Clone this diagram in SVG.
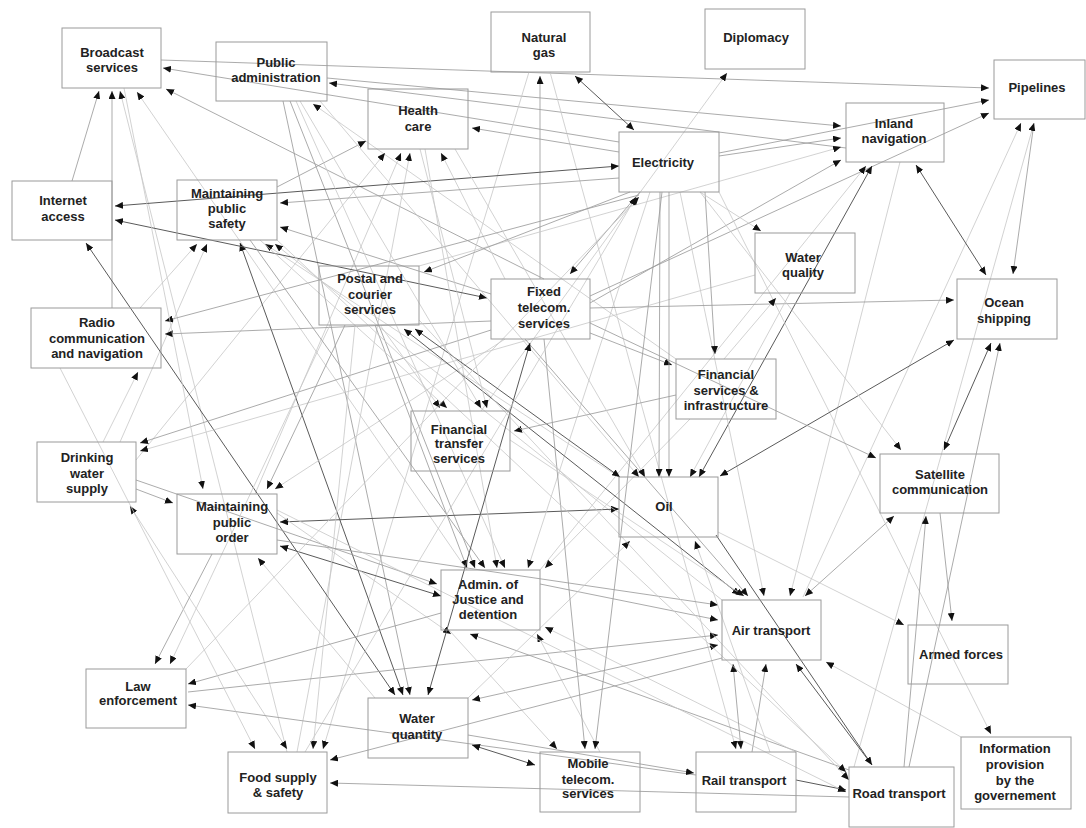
<svg xmlns="http://www.w3.org/2000/svg" width="1086" height="828" viewBox="0 0 1086 828">
<style>
.bg{fill:#fff}
.box{fill:none;stroke:#9a9a9a;stroke-width:1}
.t{font-family:"Liberation Sans",Arial,Helvetica,sans-serif;font-weight:bold;font-size:13px;fill:#222;text-anchor:middle}
#edges line{marker-end:url(#ah)}
#edges line.b{marker-start:url(#ah)}
.d{stroke:#5a5a5a;stroke-width:1}
.m{stroke:#9c9c9c;stroke-width:0.85}
.l{stroke:#c6c6c6;stroke-width:0.8}
</style>
<defs>
<marker id="ah" markerUnits="userSpaceOnUse" markerWidth="9" markerHeight="7" refX="8" refY="3.5" orient="auto-start-reverse">
<path d="M0,0 L8,3.5 L0,7 z" fill="#111"/>
</marker>
</defs>
<rect class="bg" x="0" y="0" width="1086" height="828"/>
<g id="edges">
<line class="m" x1="161" y1="60" x2="989" y2="88"/>
<line class="m" x1="619" y1="142" x2="163" y2="68"/>
<line class="m" x1="72" y1="181" x2="99" y2="91"/>
<line class="m" x1="112" y1="308" x2="112" y2="91"/>
<line class="l" x1="287" y1="752" x2="120" y2="91"/>
<line class="l" x1="467" y1="570" x2="137" y2="92"/>
<line class="m" x1="544" y1="279" x2="166" y2="89"/>
<line class="m" x1="846" y1="148" x2="329" y2="83"/>
<line class="l" x1="676" y1="359" x2="313" y2="104"/>
<line class="m" x1="290" y1="101" x2="475" y2="568"/>
<line class="m" x1="283" y1="101" x2="410" y2="695"/>
<line class="m" x1="327" y1="78" x2="841" y2="126"/>
<line class="d b" x1="575" y1="76" x2="634" y2="130"/>
<line class="m" x1="540" y1="279" x2="540" y2="76"/>
<line class="l" x1="529" y1="72" x2="323" y2="749"/>
<line class="l" x1="550" y1="72" x2="736" y2="749"/>
<line class="l" x1="481" y1="411" x2="727" y2="73"/>
<line class="m" x1="719" y1="153" x2="989" y2="100"/>
<line class="m" x1="590" y1="296" x2="989" y2="113"/>
<line class="l" x1="803" y1="597" x2="1021" y2="123"/>
<line class="m" x1="1034" y1="123" x2="1013" y2="274"/>
<line class="l" x1="854" y1="767" x2="1034" y2="123"/>
<line class="m" x1="719" y1="156" x2="841" y2="138"/>
<line class="l" x1="419" y1="266" x2="841" y2="147"/>
<line class="m" x1="590" y1="303" x2="841" y2="160"/>
<line class="d b" x1="872" y1="166" x2="699" y2="477"/>
<line class="l" x1="540" y1="570" x2="866" y2="166"/>
<line class="d b" x1="916" y1="165" x2="986" y2="275"/>
<line class="m" x1="619" y1="152" x2="472" y2="128"/>
<line class="l" x1="136" y1="460" x2="385" y2="153"/>
<line class="l" x1="255" y1="494" x2="401" y2="153"/>
<line class="l" x1="297" y1="752" x2="410" y2="153"/>
<line class="l" x1="505" y1="279" x2="441" y2="153"/>
<line class="m" x1="277" y1="187" x2="366" y2="141"/>
<line class="m" x1="619" y1="178" x2="280" y2="203"/>
<line class="m" x1="491" y1="294" x2="280" y2="227"/>
<line class="l" x1="140" y1="308" x2="197" y2="244"/>
<line class="l" x1="120" y1="442" x2="207" y2="244"/>
<line class="d b" x1="403" y1="695" x2="240" y2="243"/>
<line class="l" x1="619" y1="477" x2="265" y2="244"/>
<line class="l" x1="722" y1="600" x2="275" y2="244"/>
<line class="d b" x1="115" y1="206" x2="619" y2="166"/>
<line class="d b" x1="115" y1="220" x2="487" y2="298"/>
<line class="d b" x1="395" y1="695" x2="86" y2="243"/>
<line class="m" x1="639" y1="195" x2="165" y2="321"/>
<line class="m" x1="491" y1="321" x2="165" y2="334"/>
<line class="l" x1="103" y1="442" x2="138" y2="372"/>
<line class="m" x1="491" y1="330" x2="140" y2="443"/>
<line class="l" x1="755" y1="275" x2="140" y2="451"/>
<line class="l b" x1="287" y1="749" x2="130" y2="506"/>
<line class="m" x1="136" y1="489" x2="173" y2="503"/>
<line class="m" x1="136" y1="480" x2="437" y2="584"/>
<line class="l" x1="124" y1="88" x2="203" y2="489"/>
<line class="m" x1="345" y1="325" x2="267" y2="489"/>
<line class="l" x1="505" y1="339" x2="275" y2="489"/>
<line class="d b" x1="280" y1="522" x2="619" y2="509"/>
<line class="d b" x1="280" y1="546" x2="441" y2="596"/>
<line class="m" x1="212" y1="554" x2="155" y2="664"/>
<line class="l" x1="330" y1="325" x2="170" y2="664"/>
<line class="l" x1="375" y1="698" x2="258" y2="558"/>
<line class="m" x1="375" y1="325" x2="467" y2="568"/>
<line class="m" x1="250" y1="240" x2="485" y2="568"/>
<line class="l" x1="425" y1="149" x2="497" y2="568"/>
<line class="l" x1="296" y1="101" x2="505" y2="568"/>
<line class="l" x1="650" y1="192" x2="528" y2="568"/>
<line class="l" x1="690" y1="419" x2="545" y2="568"/>
<line class="l" x1="277" y1="513" x2="451" y2="634"/>
<line class="m" x1="849" y1="770" x2="470" y2="634"/>
<line class="l" x1="796" y1="752" x2="545" y2="627"/>
<line class="l" x1="600" y1="752" x2="537" y2="634"/>
<line class="m" x1="277" y1="540" x2="718" y2="605"/>
<line class="m" x1="540" y1="584" x2="718" y2="620"/>
<line class="m" x1="188" y1="692" x2="718" y2="635"/>
<line class="m b" x1="718" y1="645" x2="472" y2="700"/>
<line class="m" x1="441" y1="613" x2="188" y2="684"/>
<line class="m" x1="696" y1="775" x2="188" y2="705"/>
<line class="m" x1="525" y1="339" x2="748" y2="596"/>
<line class="d b" x1="404" y1="329" x2="740" y2="595"/>
<line class="d b" x1="415" y1="329" x2="620" y2="477"/>
<line class="l" x1="680" y1="192" x2="764" y2="596"/>
<line class="l" x1="900" y1="162" x2="790" y2="596"/>
<line class="m b" x1="894" y1="516" x2="805" y2="596"/>
<line class="m b" x1="733" y1="664" x2="741" y2="749"/>
<line class="m" x1="752" y1="752" x2="766" y2="664"/>
<line class="d" x1="872" y1="765" x2="796" y2="664"/>
<line class="l" x1="961" y1="737" x2="826" y2="662"/>
<line class="l" x1="718" y1="532" x2="904" y2="625"/>
<line class="m" x1="940" y1="513" x2="952" y2="621"/>
<line class="l" x1="719" y1="192" x2="991" y2="734"/>
<line class="m" x1="904" y1="767" x2="926" y2="516"/>
<line class="m" x1="909" y1="767" x2="1000" y2="343"/>
<line class="d b" x1="944" y1="450" x2="991" y2="343"/>
<line class="d b" x1="720" y1="476" x2="954" y2="340"/>
<line class="m" x1="590" y1="308" x2="954" y2="300"/>
<line class="m" x1="590" y1="323" x2="876" y2="458"/>
<line class="m" x1="590" y1="333" x2="672" y2="365"/>
<line class="l" x1="700" y1="192" x2="901" y2="450"/>
<line class="m" x1="705" y1="192" x2="715" y2="354"/>
<line class="m" x1="676" y1="395" x2="514" y2="431"/>
<line class="l" x1="724" y1="359" x2="776" y2="298"/>
<line class="l" x1="700" y1="192" x2="761" y2="231"/>
<line class="l" x1="380" y1="325" x2="440" y2="408"/>
<line class="l" x1="260" y1="240" x2="447" y2="408"/>
<line class="l" x1="300" y1="101" x2="481" y2="408"/>
<line class="l" x1="420" y1="149" x2="487" y2="408"/>
<line class="l" x1="320" y1="101" x2="639" y2="477"/>
<line class="l" x1="455" y1="149" x2="645" y2="477"/>
<line class="m" x1="660" y1="192" x2="659" y2="477"/>
<line class="m" x1="669" y1="192" x2="669" y2="477"/>
<line class="l" x1="790" y1="293" x2="690" y2="477"/>
<line class="l" x1="468" y1="698" x2="630" y2="541"/>
<line class="l" x1="770" y1="752" x2="695" y2="541"/>
<line class="m" x1="630" y1="192" x2="424" y2="272"/>
<line class="m" x1="640" y1="192" x2="570" y2="274"/>
<line class="d" x1="716" y1="535" x2="872" y2="765"/>
<line class="d" x1="796" y1="780" x2="846" y2="790"/>
<line class="m" x1="468" y1="735" x2="694" y2="773"/>
<line class="d b" x1="472" y1="745" x2="535" y2="765"/>
<line class="m" x1="544" y1="339" x2="585" y2="749"/>
<line class="m" x1="662" y1="192" x2="595" y2="749"/>
<line class="l" x1="449" y1="630" x2="557" y2="749"/>
<line class="d b" x1="530" y1="343" x2="428" y2="695"/>
<line class="m" x1="849" y1="797" x2="330" y2="783"/>
<line class="m" x1="722" y1="658" x2="330" y2="760"/>
<line class="l" x1="60" y1="368" x2="255" y2="749"/>
<line class="l" x1="355" y1="325" x2="313" y2="749"/>
<line class="l" x1="277" y1="240" x2="846" y2="772"/>
<line class="l" x1="419" y1="320" x2="849" y2="780"/>
<line class="l" x1="277" y1="510" x2="846" y2="792"/>
<line class="l" x1="510" y1="440" x2="744" y2="596"/>
<line class="l" x1="186" y1="669" x2="639" y2="197"/>
<line class="l" x1="305" y1="752" x2="636" y2="197"/>
</g>
<g id="n-broadcast"><rect class="box" x="62" y="28" width="99" height="60"/><text class="t" x="112" y="57">Broadcast</text><text class="t" x="112" y="72">services</text></g>
<g id="n-publicadmin"><rect class="box" x="216" y="42" width="111" height="59"/><text class="t" x="276" y="66.5">Public</text><text class="t" x="276" y="81.5">administration</text></g>
<g id="n-naturalgas"><rect class="box" x="491" y="12" width="99" height="60"/><text class="t" x="544" y="41.5">Natural</text><text class="t" x="544" y="57">gas</text></g>
<g id="n-diplomacy"><rect class="box" x="705" y="9" width="100" height="60"/><text class="t" x="756" y="41.5">Diplomacy</text></g>
<g id="n-pipelines"><rect class="box" x="994" y="60" width="91" height="59"/><text class="t" x="1037" y="91.5">Pipelines</text></g>
<g id="n-healthcare"><rect class="box" x="368" y="89" width="100" height="60"/><text class="t" x="418" y="114.5">Health</text><text class="t" x="418" y="130.5">care</text></g>
<g id="n-inland"><rect class="box" x="846" y="103" width="98" height="59"/><text class="t" x="894" y="127.5">Inland</text><text class="t" x="894" y="142.5">navigation</text></g>
<g id="n-electricity"><rect class="box" x="619" y="132" width="100" height="60"/><text class="t" x="663" y="166.5">Electricity</text></g>
<g id="n-internet"><rect class="box" x="12" y="181" width="100" height="59"/><text class="t" x="63" y="204.5">Internet</text><text class="t" x="63" y="220.5">access</text></g>
<g id="n-publicsafety"><rect class="box" x="177" y="180" width="100" height="60"/><text class="t" x="227" y="197.5">Maintaining</text><text class="t" x="227" y="212.5">public</text><text class="t" x="227" y="227.5">safety</text></g>
<g id="n-waterquality"><rect class="box" x="755" y="233" width="100" height="60"/><text class="t" x="803" y="261.5">Water</text><text class="t" x="803" y="276.5">quality</text></g>
<g id="n-postal"><rect class="box" x="319" y="266" width="100" height="59"/><text class="t" x="370" y="283">Postal and</text><text class="t" x="370" y="298.5">courier</text><text class="t" x="370" y="313.5">services</text></g>
<g id="n-fixedtelecom"><rect class="box" x="491" y="279" width="99" height="60"/><text class="t" x="544" y="295.5">Fixed</text><text class="t" x="544" y="311.5">telecom.</text><text class="t" x="544" y="327.5">services</text></g>
<g id="n-ocean"><rect class="box" x="957" y="279" width="100" height="60"/><text class="t" x="1004" y="306.5">Ocean</text><text class="t" x="1004" y="322.5">shipping</text></g>
<g id="n-radio"><rect class="box" x="31" y="308" width="130" height="60"/><text class="t" x="97" y="326.5">Radio</text><text class="t" x="97" y="342.5">communication</text><text class="t" x="97" y="357.5">and navigation</text></g>
<g id="n-finservices"><rect class="box" x="676" y="359" width="100" height="60"/><text class="t" x="726" y="378.5">Financial</text><text class="t" x="726" y="394.5">services &amp;</text><text class="t" x="726" y="409.5">infrastructure</text></g>
<g id="n-fintransfer"><rect class="box" x="411" y="411" width="99" height="60"/><text class="t" x="459" y="433.5">Financial</text><text class="t" x="459" y="447.5">transfer</text><text class="t" x="459" y="462.5">services</text></g>
<g id="n-drinking"><rect class="box" x="37" y="442" width="99" height="60"/><text class="t" x="87" y="461.5">Drinking</text><text class="t" x="87" y="477.5">water</text><text class="t" x="87" y="492.5">supply</text></g>
<g id="n-satellite"><rect class="box" x="880" y="454" width="119" height="59"/><text class="t" x="940" y="478.5">Satellite</text><text class="t" x="940" y="493.5">communication</text></g>
<g id="n-oil"><rect class="box" x="619" y="477" width="99" height="60"/><text class="t" x="664" y="510.5">Oil</text></g>
<g id="n-publicorder"><rect class="box" x="177" y="494" width="100" height="60"/><text class="t" x="232" y="510.5">Maintaining</text><text class="t" x="232" y="526.5">public</text><text class="t" x="232" y="541.5">order</text></g>
<g id="n-justice"><rect class="box" x="441" y="570" width="99" height="60"/><text class="t" x="488" y="588.5">Admin. of</text><text class="t" x="488" y="603.5">Justice and</text><text class="t" x="488" y="618.5">detention</text></g>
<g id="n-air"><rect class="box" x="722" y="600" width="99" height="60"/><text class="t" x="771" y="634.5">Air transport</text></g>
<g id="n-armed"><rect class="box" x="908" y="625" width="100" height="59"/><text class="t" x="961" y="658.5">Armed forces</text></g>
<g id="n-law"><rect class="box" x="86" y="669" width="100" height="59"/><text class="t" x="138" y="690.5">Law</text><text class="t" x="138" y="704.5">enforcement</text></g>
<g id="n-waterquantity"><rect class="box" x="368" y="698" width="100" height="60"/><text class="t" x="417" y="722.5">Water</text><text class="t" x="417" y="738.5">quantity</text></g>
<g id="n-info"><rect class="box" x="961" y="737" width="110" height="72"/><text class="t" x="1015" y="752.5">Information</text><text class="t" x="1015" y="768.5">provision</text><text class="t" x="1015" y="784.5">by the</text><text class="t" x="1015" y="799.5">governement</text></g>
<g id="n-food"><rect class="box" x="228" y="752" width="99" height="61"/><text class="t" x="278" y="781.5">Food supply</text><text class="t" x="278" y="796.5">&amp; safety</text></g>
<g id="n-mobile"><rect class="box" x="540" y="752" width="100" height="60"/><text class="t" x="588" y="767.5">Mobile</text><text class="t" x="588" y="783.5">telecom.</text><text class="t" x="588" y="797.5">services</text></g>
<g id="n-rail"><rect class="box" x="696" y="752" width="100" height="60"/><text class="t" x="744" y="784.5">Rail transport</text></g>
<g id="n-road"><rect class="box" x="849" y="767" width="105" height="60"/><text class="t" x="899" y="797.5">Road transport</text></g>
</svg>
